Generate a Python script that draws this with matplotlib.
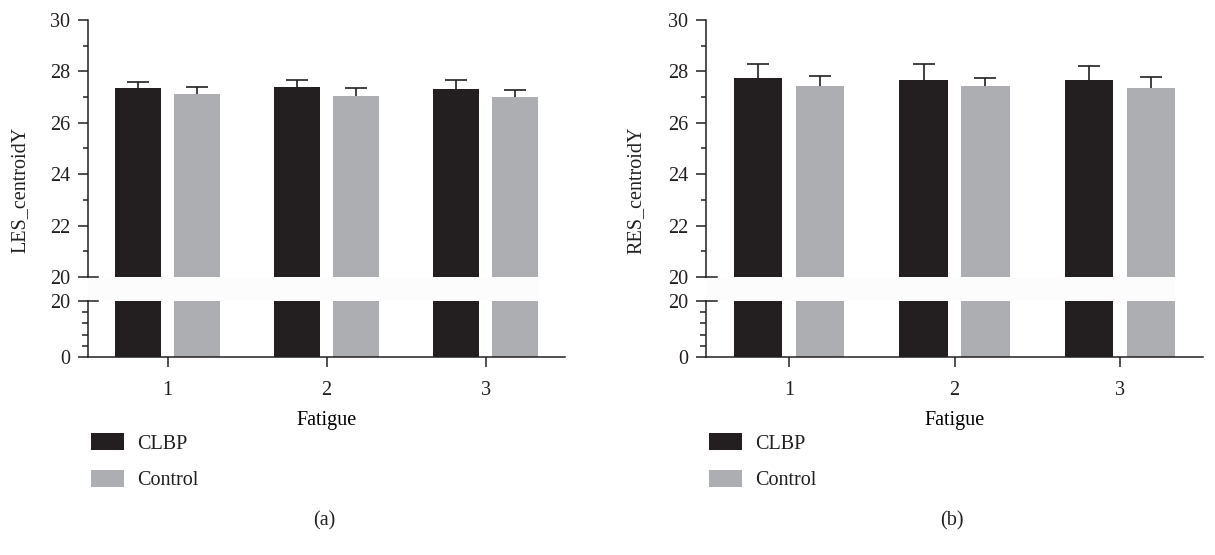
import matplotlib
matplotlib.use("Agg")
import matplotlib.pyplot as plt
import matplotlib.transforms as mtransforms
from matplotlib.patches import Patch, Rectangle
from matplotlib.ticker import MultipleLocator, FixedLocator
import numpy as np

# values
fatigue = [1, 2, 3]
groups = ["CLBP", "Control"]

les_clbp = [27.37, 27.41, 27.33]
les_clbp_err = [0.21, 0.25, 0.32]
les_ctrl = [27.11, 27.06, 27.02]
les_ctrl_err = [0.27, 0.29, 0.25]

res_clbp = [27.73, 27.65, 27.65]
res_clbp_err = [0.56, 0.64, 0.57]
res_ctrl = [27.45, 27.45, 27.37]
res_ctrl_err = [0.37, 0.31, 0.41]

dark = "#231f20"
grey = "#adaeb2"
fs = 14.5

plt.rcParams["font.family"] = ["Liberation Serif", "DejaVu Serif"]
plt.rcParams["font.size"] = fs
plt.rcParams["text.color"] = dark
plt.rcParams["axes.edgecolor"] = dark
plt.rcParams["xtick.color"] = dark
plt.rcParams["ytick.color"] = dark

W, H = 1215, 555
fig = plt.figure(figsize=(W / 100, H / 100), dpi=100)

bw = 0.29
off = 0.187


def upper_err(ax, x, y, err):
    eb = ax.errorbar(x, y, yerr=[np.zeros(len(err)), err], fmt="none",
                     ecolor=dark, elinewidth=1.2, capsize=8, capthick=1.2, zorder=3)
    # keep only the top cap
    eb[1][0].set_visible(False)


def panel(left, right, ylabel, clbp, clbp_err, ctrl, ctrl_err, tag, ylab_x):
    x = np.array(fatigue, dtype=float)
    l, w = left / W, (right - left) / W
    ax_top = fig.add_axes([l, 1 - 277 / H, w, 257 / H])
    ax_bot = fig.add_axes([l, 1 - 357 / H, w, 56 / H])

    for ax in (ax_top, ax_bot):
        ax.bar(x - off, clbp, bw, color=dark, zorder=2)
        ax.bar(x + off, ctrl, bw, color=grey, zorder=2)
        ax.set_xlim(0.5, 3.5)
        ax.spines["top"].set_visible(False)
        ax.spines["right"].set_visible(False)
        ax.spines["left"].set_linewidth(1.1)
        ax.spines["bottom"].set_linewidth(1.1)

    upper_err(ax_top, x - off, clbp, clbp_err)
    upper_err(ax_top, x + off, ctrl, ctrl_err)

    ax_top.set_ylim(20, 30)
    ax_top.yaxis.set_major_locator(MultipleLocator(2))
    ax_top.yaxis.set_minor_locator(MultipleLocator(1))
    ax_top.spines["bottom"].set_visible(False)
    ax_top.tick_params(axis="x", bottom=False, labelbottom=False)
    ax_top.tick_params(axis="y", which="major", length=7, width=1.1, pad=6, labelsize=fs)
    ax_top.tick_params(axis="y", which="minor", length=3.5, width=1.1)

    ax_bot.set_ylim(0, 20)
    ax_bot.yaxis.set_major_locator(FixedLocator([0, 20]))
    ax_bot.yaxis.set_minor_locator(FixedLocator([4, 8, 12, 16]))
    ax_bot.tick_params(axis="y", which="major", length=7, width=1.1, pad=6, labelsize=fs)
    ax_bot.tick_params(axis="y", which="minor", length=4, width=1.1)
    ax_bot.set_xticks(fatigue)
    ax_bot.tick_params(axis="x", length=7, width=1.1, pad=10, labelsize=fs)
    ax_bot.set_xlabel("Fatigue", fontsize=fs, labelpad=8)

    # "20" ticks at the break cross the spine
    for ax in (ax_top, ax_bot):
        ax.plot([0, 0.022], [20, 20], transform=ax.get_yaxis_transform(),
                color=dark, lw=1.1, clip_on=False, zorder=4)

    # faint band at the axis break
    tr = mtransforms.blended_transform_factory(ax_top.transData, fig.transFigure)
    fig.patches.append(Rectangle((0.5, 1 - 300 / H), 3 + off + bw / 2 - 0.5, 22 / H,
                                 transform=tr, facecolor="#fcfcfc", edgecolor="none",
                                 figure=fig, zorder=0))

    fig.text(ylab_x / W, 1 - 190 / H, ylabel, rotation=90, ha="center", va="center",
             fontsize=fs)

    handles = [Patch(facecolor=dark, edgecolor="none"),
               Patch(facecolor=grey, edgecolor="none")]
    fig.legend(handles, groups, loc="upper left",
               bbox_to_anchor=((left + 3) / W, 1 - 433 / H), frameon=False,
               borderpad=0, borderaxespad=0, handlelength=1.65, handleheight=0.95,
               handletextpad=0.65, labelspacing=0.8, fontsize=fs)

    fig.text((left + right) / 2 / W - 0.002, 1 - 521 / H, tag, ha="center", va="center",
             fontsize=fs)


panel(88, 565, "LES_centroidY", les_clbp, les_clbp_err, les_ctrl, les_ctrl_err, "(a)", 20)
panel(706, 1203, "RES_centroidY", res_clbp, res_clbp_err, res_ctrl, res_ctrl_err, "(b)", 636)

fig.savefig("out.png", dpi=100)
